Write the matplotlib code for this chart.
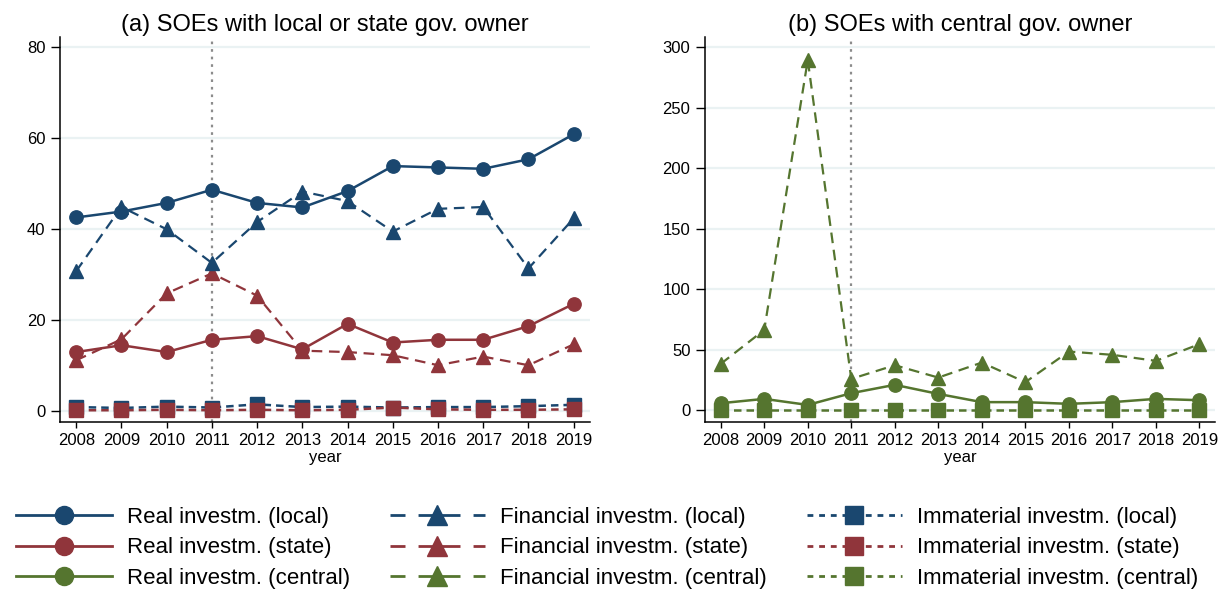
import matplotlib
matplotlib.use("Agg")
import matplotlib.pyplot as plt
from matplotlib.lines import Line2D

plt.rcParams['font.family'] = ['Liberation Sans', 'DejaVu Sans']

years = [2008, 2009, 2010, 2011, 2012, 2013, 2014, 2015, 2016, 2017, 2018, 2019]

real_local = [42.6, 43.9, 45.8, 48.7, 45.8, 44.8, 48.4, 53.9, 53.6, 53.3, 55.4, 60.9]
fin_local = [30.8, 44.9, 40.0, 32.6, 41.6, 48.3, 46.2, 39.5, 44.5, 44.9, 31.4, 42.4]
imm_local = [0.9, 0.7, 1.0, 0.8, 1.5, 0.9, 1.0, 0.8, 0.9, 0.9, 1.1, 1.4]

real_state = [13.0, 14.5, 13.0, 15.7, 16.5, 13.6, 19.2, 15.1, 15.7, 15.7, 18.7, 23.6]
fin_state = [11.2, 15.8, 25.9, 30.3, 25.4, 13.3, 13.0, 12.3, 10.1, 12.0, 10.1, 14.7]
imm_state = [0.2, 0.2, 0.3, 0.2, 0.3, 0.2, 0.3, 0.8, 0.4, 0.3, 0.3, 0.4]

real_central = [5.9, 9.5, 4.5, 14.2, 21.1, 13.6, 6.8, 6.8, 5.4, 6.8, 9.5, 8.4]
fin_central = [38.4, 66.5, 289.5, 26.0, 37.3, 27.1, 39.5, 23.3, 48.6, 45.9, 40.9, 54.7]
imm_central = [0.3, 0.3, 0.3, 0.3, 0.3, 0.3, 0.3, 0.3, 0.3, 0.3, 0.3, 0.3]

titles = ["(a) SOEs with local or state gov. owner", "(b) SOEs with central gov. owner"]
left_ticks = [0, 20, 40, 60, 80]
right_ticks = [0, 50, 100, 150, 200, 250, 300]

NAVY = '#1a476f'
MAROON = '#90353b'
GREEN = '#55752f'
GRID = '#eaf2f3'

fig = plt.figure(figsize=(12.23, 5.93), dpi=100)
axL = fig.add_axes([0.049, 0.289, 0.4334, 0.6487])
axR = fig.add_axes([0.5765, 0.289, 0.417, 0.6487])

real_style = dict(linestyle='-', marker='o', markersize=9.6, linewidth=1.8)
fin_style = dict(linestyle=(0, (4.8, 3.0)), marker='^', markersize=10.5, linewidth=1.6)
imm_style = dict(linestyle=(0, (3.0, 2.0)), marker='s', markersize=9.5, linewidth=1.8)

def setup(ax, ticks, ylim, title):
    ax.set_xlim(2007.64, 2019.36)
    ax.set_ylim(*ylim)
    ax.set_yticks(ticks)
    ax.set_xticks(years)
    ax.set_xticklabels([str(y) for y in years], fontsize=12)
    ax.tick_params(axis='y', labelsize=12, length=6.5, width=1, pad=4)
    ax.tick_params(axis='x', length=4.5, width=1, pad=4)
    for s in ['top', 'right']:
        ax.spines[s].set_visible(False)
    for s in ['left', 'bottom']:
        ax.spines[s].set_linewidth(1.1)
    ax.grid(axis='y', color=GRID, linewidth=1.6)
    ax.set_axisbelow(True)
    ax.axvline(2011, color='#8c8c8c', linestyle=(0, (1.2, 2.2)), linewidth=1.6, zorder=1)
    ax.set_xlabel('year', fontsize=12, labelpad=1)
    ax.set_title(title, fontsize=17, pad=4)

setup(axL, left_ticks, (-2.3, 82.3), titles[0])
setup(axR, right_ticks, (-9.3, 308.6), titles[1])

# Left panel
axL.plot(years, imm_local, color=NAVY, **imm_style)
axL.plot(years, imm_state, color=MAROON, **imm_style)
axL.plot(years, fin_state, color=MAROON, **fin_style)
axL.plot(years, real_state, color=MAROON, **real_style)
axL.plot(years, fin_local, color=NAVY, **fin_style)
axL.plot(years, real_local, color=NAVY, **real_style)

# Right panel
axR.plot(years, imm_central, color=GREEN, **imm_style)
axR.plot(years, fin_central, color=GREEN, **fin_style)
axR.plot(years, real_central, color=GREEN, **real_style)

labels_real = ["Real investm. (local)", "Real investm. (state)", "Real investm. (central)"]
labels_fin = ["Financial investm. (local)", "Financial investm. (state)", "Financial investm. (central)"]
labels_imm = ["Immaterial investm. (local)", "Immaterial investm. (state)", "Immaterial investm. (central)"]
colors = [NAVY, MAROON, GREEN]

handles, labels = [], []
for c, l in zip(colors, labels_real):
    handles.append(Line2D([], [], color=c, linestyle='-', marker='o', markersize=13, linewidth=2))
    labels.append(l)
for c, l in zip(colors, labels_fin):
    handles.append(Line2D([], [], color=c, linestyle=(0, (5.4, 4.7, 15.1, 4.7, 5.0, 40)),
                          marker='^', markersize=14, linewidth=2))
    labels.append(l)
for c, l in zip(colors, labels_imm):
    handles.append(Line2D([], [], color=c, linestyle=(0, (2.1, 2.1)), marker='s', markersize=13, linewidth=2))
    labels.append(l)

fig.legend(handles, labels, ncol=3, loc='center', bbox_to_anchor=(0.4967, 0.076),
           frameon=False, fontsize=16, handlelength=4.3, handletextpad=0.68,
           columnspacing=1.78, labelspacing=0.43, borderaxespad=0, borderpad=0)

fig.savefig('out.png', dpi=100)
